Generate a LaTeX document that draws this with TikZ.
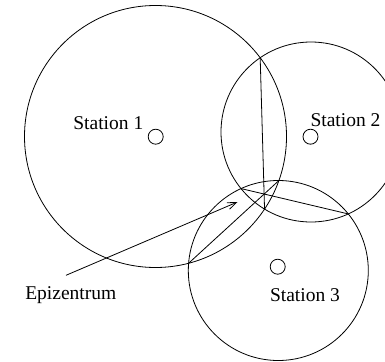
\documentclass[tikz,border=0pt]{standalone}
\usepackage{fontspec}
\setmainfont{Liberation Serif}
\usetikzlibrary{intersections,arrows.meta}
\begin{document}
\begin{tikzpicture}[x=1pt,y=-1pt,line width=0.8pt,
  station/.style={draw,circle,minimum size=15pt,inner sep=0pt},
  lbl/.style={font=\fontsize{19.5}{22}\selectfont,anchor=base,inner sep=0pt}]
\useasboundingbox (0,0) rectangle (385,361);
\clip (0,0) rectangle (385,361);
\draw[name path=c1] (155.5,136.5) circle[radius=131pt];
\draw[name path=c2] (311,132) circle[radius=90pt];
\draw[name path=c3] (278.3,270.5) circle[radius=90pt];
\node[station] (s1) at (155.7,136.7) {};
\node[station] (s2) at (310.5,136.7) {};
\node[station] (s3) at (277.7,266.7) {};
\path[name intersections={of=c1 and c2,name=p}];
\path[name intersections={of=c2 and c3,name=q}];
\path[name intersections={of=c1 and c3,name=r}];
\draw (p-1) -- (p-2);
\draw (q-1) -- (q-2);
\draw (r-1) -- (r-2);
\node[lbl] (t1) at (108.3,129.3) {Station 1};
\node[lbl] (t2) at (345.5,126) {Station 2};
\node[lbl] (t3) at (305,301.7) {Station 3};
\node[lbl] (te) at (70.8,299) {Epizentrum};
\coordinate (a0) at (66,275.3);
\coordinate (a1) at (237.5,202);
\draw[-{Straight Barb[length=9pt,width=7pt]}] (a0) -- (a1);
\end{tikzpicture}
\end{document}
